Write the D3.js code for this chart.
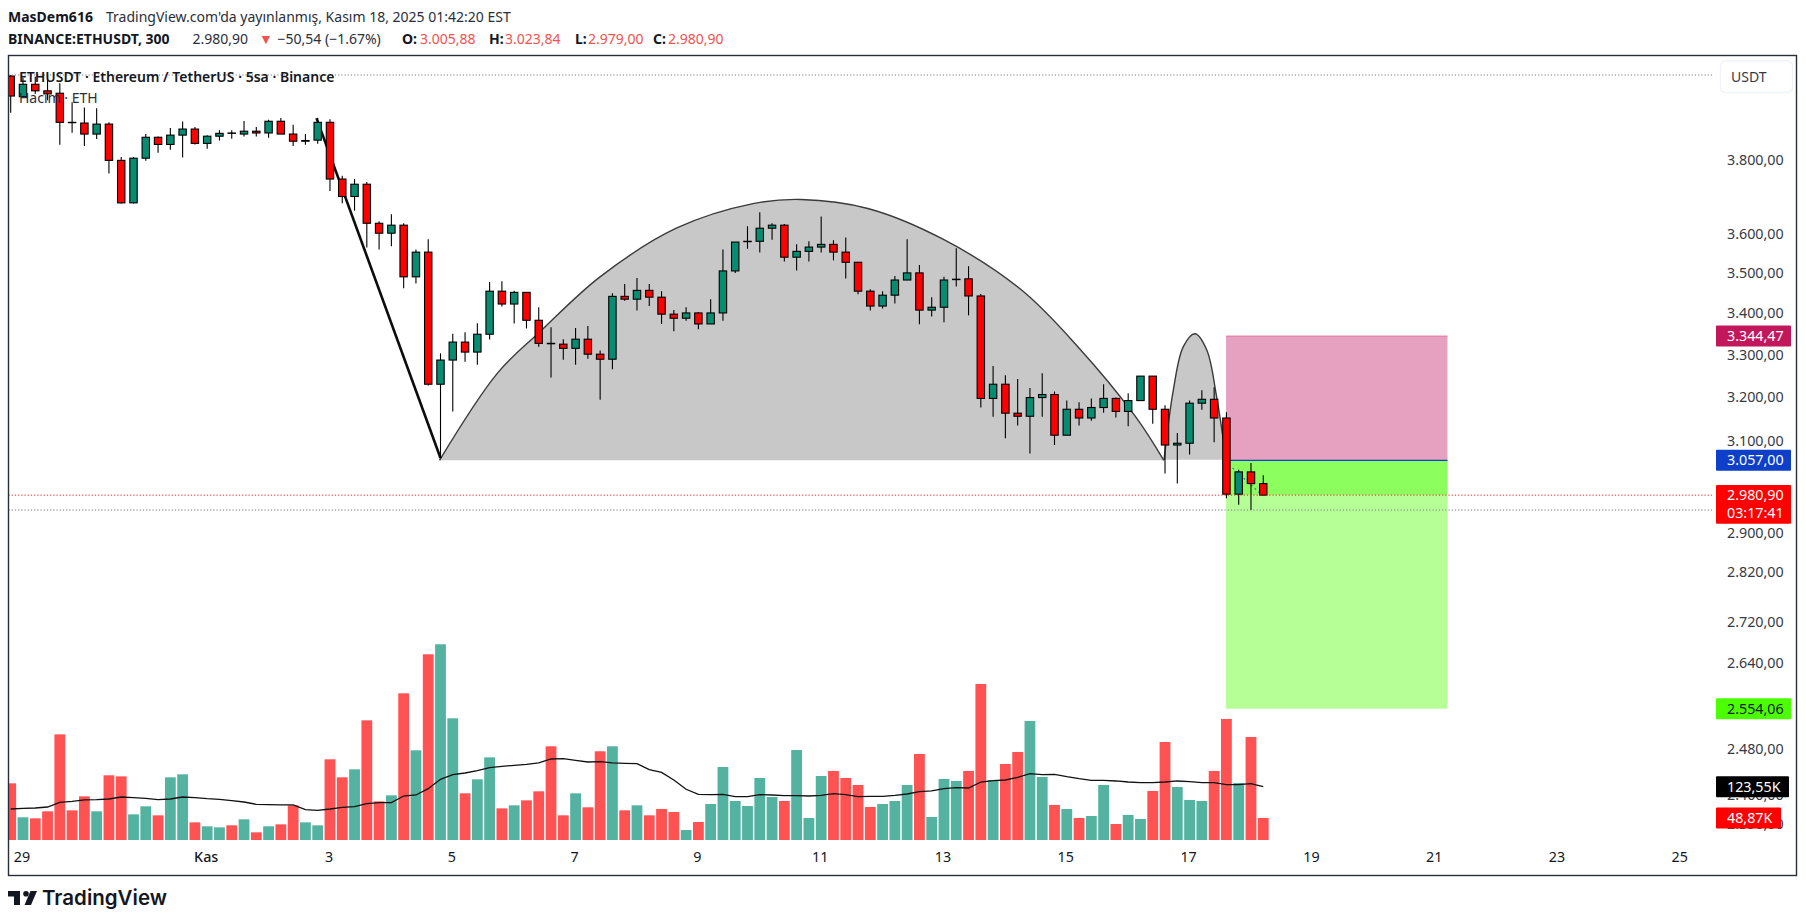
<!DOCTYPE html>
<html><head><meta charset="utf-8">
<style>html,body{margin:0;background:#fff}svg{display:block}text{font-family:"Noto Sans",sans-serif}</style>
<script src="https://cdn.jsdelivr.net/npm/d3@7"></script></head><body>
<svg id="c" width="1806" height="922"></svg>
<script>
const open=[4037,3977,4013,3994,3987,3904,3902,3871,3899,3798,3683,3804,3862,3842,3868,3885,3845,3865,3874,3871,3879,3874,3907,3871,3851,3854,3904,3747,3700,3733,3629,3603,3624,3491,3554,3230,3287,3330,3306,3349,3455,3423,3452,3383,3327,3325,3315,3337,3301,3289,3442,3435,3457,3440,3398,3388,3401,3374,3401,3506,3581,3582,3616,3624,3541,3556,3567,3574,3554,3528,3455,3418,3445,3483,3501,3408,3415,3484,3486,3443,3197,3230,3163,3156,3199,3206,3113,3172,3152,3176,3197,3167,3192,3249,3172,3091,3095,3186,3195,3152,2983,3031.44,3005.88];
const close=[3979,4013,3994,3985,3904,3903,3871,3899,3798,3683,3804,3862,3842,3868,3885,3845,3865,3873,3873,3879,3874,3907,3871,3851,3853,3904,3747,3700,3733,3629,3603,3624,3491,3554,3230,3287,3330,3306,3349,3455,3423,3452,3383,3327,3326,3315,3337,3301,3289,3442,3435,3457,3440,3398,3388,3401,3374,3401,3506,3580,3582,3616,3624,3541,3556,3567,3574,3554,3528,3455,3418,3445,3483,3501,3408,3415,3483,3485,3443,3197,3230,3163,3156,3199,3206,3113,3172,3152,3176,3197,3167,3192,3249,3172,3091,3095,3186,3195,3152,2983,3031.44,3005.88,2980.90];
const high=[4040,4031,4035,4040,4016,3961,3946,3944,3904,3807,3807,3871,3864,3888,3906,3891,3868,3882,3882,3908,3891,3911,3916,3897,3871,3916,3913,3756,3747,3739,3634,3653,3629,3561,3587,3303,3350,3354,3376,3478,3480,3456,3452,3415,3366,3337,3364,3369,3310,3450,3473,3488,3473,3455,3408,3415,3403,3435,3561,3580,3621,3658,3629,3627,3574,3582,3647,3585,3592,3528,3460,3455,3493,3587,3521,3440,3491,3564,3518,3448,3273,3251,3242,3221,3256,3213,3192,3188,3197,3230,3199,3209,3249,3249,3181,3118,3192,3216,3223,3165,3036,3051,3023.84];
const low=[3931,3973,3985,3967,3841,3875,3838,3857,3762,3681,3681,3797,3819,3827,3806,3842,3830,3853,3858,3864,3864,3861,3871,3838,3841,3844,3715,3682,3662,3566,3561,3569,3462,3474,3227,3062,3167,3283,3276,3336,3417,3375,3363,3319,3246,3288,3276,3290,3194,3265,3431,3407,3418,3374,3356,3382,3361,3374,3382,3501,3563,3553,3586,3530,3507,3530,3553,3533,3487,3447,3407,3412,3424,3483,3373,3392,3378,3467,3395,3176,3155,3106,3135,3072,3155,3091,3113,3135,3146,3164,3153,3133,3192,3139,3028,3006,3070,3171,3097,2974,2960,2949,2979];
const volume=[125.9,50.4,48.1,63.7,234.7,65.9,97,63.7,143.7,141.4,57,74.8,54.8,139.2,145.9,39.2,30.4,28.1,32.6,45.9,17,30.4,34.8,77,39.2,32.6,179.2,139.2,157,265.8,85.9,99.2,325.8,199.2,412.5,434.7,270.3,103.7,134.8,183.6,70.3,77,88.1,108.1,208.1,54.8,103.7,72.6,197,208.1,65.9,77,54.8,68.9,62.2,22.2,40,80,162.2,86.6,75.5,137.7,95.5,86.6,199.9,48.9,142.2,153.3,137.7,122.2,73.3,80,86.6,122.2,191,51.1,135.5,131.1,153.3,346.6,133.3,168.8,195.5,264.4,140,77.8,68.9,48.9,53.3,122.2,35.5,55.5,46.7,108.9,217.7,117.7,88.9,86.6,153.3,268.8,126.6,228.8,48.87];
const volumeMA=[68.9,70.3,71.1,73.3,83.7,85.9,88.9,89.6,91.1,95.5,94,92.6,89.6,91.1,95.5,94,91.8,90.3,87.4,84.4,79.2,78.5,77.8,77.8,67.4,65.9,68.9,72.6,74,80.7,82.9,82.9,97.7,100,114,134.8,145.1,148.8,154,160.7,163.7,165.9,168.1,171.1,179.9,180.7,177,173.3,174,171.1,170.3,169.6,156.2,150.3,133.3,112.6,101.4,100.7,101.4,96.3,96.3,100.7,100,98.5,98.5,97.7,99.2,102.9,100.7,96.3,97,97,99.2,102.2,107.4,108.9,114,116.3,115.5,128.8,131.8,133.3,139.2,147.4,145.1,145.9,140.7,136.3,132.6,132.6,131.1,128.8,127.4,127.4,128.8,131.1,129.6,127.4,127.4,122.9,122.9,125.1,118.5];

const priceTicks=[3800,3600,3500,3400,3300,3200,3100,2900,2820,2720,2640,2480,2400,2350];
const dateTickIndex=[1,16,26,36,46,56,66,76,86,96,106,116,126,136];
const dateTickLabels=["29","Kas","3","5","7","9","11","13","15","17","19","21","23","25"];

const bigArcIndex=[34.92,39.64,43.1,47.99,54.2,60.45,64.35,69.8,76,82.27,86.9,91.6,93.9];
const bigArcPrice=[3057,3256,3355,3491,3616,3681,3692,3668,3586,3459,3319,3155,3057];
const smallArcIndex=[93.92,94.68,95.49,96.44,97.4,98.2,98.75,98.97];
const smallArcPrice=[3058,3217,3319,3350,3311,3201,3102,3058];
const legIndex=[24.9,35], legPrice=[3916,3062];
const traceIndex=[99.5,101.9], tracePrice=[3040,2981];

const entry=3057, stopLevel=3344.47, target=2554.06, last=2980.90;
const boxIndex=[98.97,117.0];
const visibleHigh=4040, visibleLow=2949;
const lastVolume=48.87, lastVolMA=118.5;

const X0=8.5,X1=1796.5,Y0=55.5,Y1=875.5,AX=1716;
const svg=d3.select("#c");
const x=d3.scaleLinear().domain([0,136]).range([10.7,10.7+136*12.28]);
const y=d3.scaleLog().domain([entry,target]).range([460.3,708.7]);
const v=d3.scaleLinear().domain([0,450]).range([840,637.4]);
const loc=d3.formatLocale({decimal:",",thousands:".",grouping:[3],currency:["",""]});
const fp=loc.format(",.2f");

const C={red:"#ff0000",teal:"#078c72",vr:"#ff5252",vt:"#53b2a0"};
svg.append("defs").append("clipPath").attr("id","plot").append("rect").attr("x",X0).attr("y",Y0).attr("width",AX-X0).attr("height",Y1-Y0-30);
const g=svg.append("g").attr("clip-path","url(#plot)");

// volume
const idx=d3.range(open.length);
g.append("g").selectAll("rect").data(idx).join("rect")
 .attr("x",i=>x(i)-5.4).attr("width",10.8).attr("y",i=>v(volume[i])).attr("height",i=>v(0)-v(volume[i]))
 .attr("fill",i=>close[i]<open[i]?C.vr:C.vt);
g.append("path").datum(idx).attr("fill","none").attr("stroke","#111").attr("stroke-width",1.3)
 .attr("d",d3.line().x(i=>x(i)).y(i=>v(volumeMA[i])));

// arcs
const arc=d3.line().x(d=>x(d[0])).y(d=>y(d[1])).curve(d3.curveCatmullRom.alpha(.5));
[[bigArcIndex,bigArcPrice],[smallArcIndex,smallArcPrice]].forEach(([a,b])=>{
  const pts=a.map((d,i)=>[d,b[i]]);
  g.append("path").attr("d",arc(pts)+"Z").attr("fill","#c8c8c8");
  g.append("path").attr("d",arc(pts)).attr("fill","none").attr("stroke","#3a3a3a").attr("stroke-width",1.4);
});
// position box
const bx=x(boxIndex[0]),bw=x(boxIndex[1])-bx;
const band=(a,b,f)=>g.append("rect").attr("x",bx).attr("width",bw).attr("y",y(a)).attr("height",y(b)-y(a)).attr("fill",f);
band(stopLevel,entry,"#e5a1bf");band(entry,last,"#8cff5f");band(last,target,"#b6ff97");
g.append("line").attr("x1",bx).attr("x2",bx+bw).attr("y1",y(stopLevel)).attr("y2",y(stopLevel)).attr("stroke","#e0709c").attr("stroke-width",1);
g.append("line").attr("x1",bx).attr("x2",bx+bw).attr("y1",y(entry)).attr("y2",y(entry)).attr("stroke","#0d47c8").attr("stroke-width",1.2);
// bold leg
g.append("path").attr("d",d3.line().x((d,i)=>x(legIndex[i])).y((d,i)=>y(legPrice[i]))(legIndex)).attr("stroke","#0c0c0c").attr("stroke-width",2.6).attr("fill","none");
g.append("path").attr("d",d3.line().x((d,i)=>x(traceIndex[i])).y((d,i)=>y(tracePrice[i]))(traceIndex)).attr("stroke","#3e74c7").attr("stroke-width",1.2).attr("stroke-dasharray","2 3").attr("fill","none");

// candles
const cg=g.append("g").selectAll("g").data(idx).join("g");
cg.append("line").attr("x1",i=>x(i)).attr("x2",i=>x(i)).attr("y1",i=>y(high[i])).attr("y2",i=>y(low[i])).attr("stroke","#000").attr("stroke-width",1.1);
cg.append("rect").attr("x",i=>x(i)-3.7).attr("width",7.4)
 .attr("y",i=>y(Math.max(open[i],close[i])))
 .attr("height",i=>Math.abs(y(open[i])-y(close[i])))
 .attr("fill",i=>close[i]<open[i]?C.red:C.teal).attr("stroke","#000").attr("stroke-width",1.1);

// dotted levels
const dot=(p,col)=>svg.append("line").attr("x1",X0).attr("x2",AX-2).attr("y1",y(p)).attr("y2",y(p)).attr("stroke",col).attr("stroke-width",1).attr("stroke-dasharray","1.2 2");
dot(visibleHigh,"#787b86");dot(visibleLow,"#787b86");dot(last,"#e0201f");

// frame
svg.append("rect").attr("x",X0).attr("y",Y0).attr("width",X1-X0).attr("height",Y1-Y0).attr("fill","none").attr("stroke","#2a2e39").attr("stroke-width",1.4);

// axes
const ya=svg.append("g").attr("transform",`translate(1727,0)`).call(d3.axisRight(y).tickValues(priceTicks).tickSize(0).tickPadding(0).tickFormat(fp));
ya.select(".domain").remove();
ya.selectAll("text").attr("font-size",14.3).attr("fill","#363a45").style("font-family",'"Noto Sans",sans-serif');
const xa=svg.append("g").attr("transform",`translate(-1.5,${Y1-26})`).call(d3.axisBottom(x).tickValues(dateTickIndex).tickSize(0).tickPadding(0).tickFormat((d,i)=>dateTickLabels[i]));
xa.select(".domain").remove();
xa.selectAll("text").attr("font-size",14.3).attr("fill","#131722").style("font-family",'"Noto Sans",sans-serif').attr("dy",".85em").attr("y",0);
xa.selectAll("text").filter((d,i)=>i==1).attr("font-weight",500);

// labels
function label(cy,h,w,fill,lines,tc){
  svg.append("rect").attr("x",AX).attr("y",cy-h/2).attr("width",w).attr("height",h).attr("fill",fill).attr("rx",1);
  lines.forEach((t,i)=>svg.append("text").attr("x",1727).attr("y",cy-(lines.length-1)*9+i*18).attr("dy",".36em").attr("font-size",14.3).attr("fill",tc).text(t));
}
label(y(stopLevel),21,75,"#c2185b",[fp(stopLevel)],"#fff");
label(y(entry),21,75,"#0d3fc8",[fp(entry)],"#fff");
label(y(last)+9.2,38.6,75,"#ff0000",[fp(last),"03:17:41"],"#fff");
label(y(target),21,75,"#4bff00",[fp(target)],"#131722");
label(v(lastVolMA),21,73,"#000",["123,55K"],"#fff");
label(v(lastVolume),21,65,"#ff0000",["48,87K"],"#fff");

// USDT button
svg.append("rect").attr("x",1720.5).attr("y",61).attr("width",72).attr("height",31.5).attr("rx",5).attr("fill","#fff").attr("stroke","#f0f3fa").attr("stroke-width",1.4);
svg.append("text").attr("x",1731).attr("y",76.7).attr("dy",".36em").attr("font-size",14).attr("fill","#363a45").text("USDT");

// legends
const tx=(s,xp,yc,o={})=>svg.append("text").attr("x",xp).attr("y",yc).attr("dy",".36em").attr("font-size",o.s||14).attr("font-weight",o.w||400).attr("fill",o.c||"#131722").text(s);
tx("ETHUSDT · Ethereum / TetherUS · 5sa · Binance",19,77,{w:600,s:14});
tx("Hacim · ETH",19,98,{c:"#2a2e39",s:14});

// header
tx("MasDem616",8,17,{w:700});
tx("TradingView.com'da yayınlanmış, Kasım 18, 2025 01:42:20 EST",106,17,{c:"#2a2e39"});
tx("BINANCE:ETHUSDT, 300",8,39,{w:700});
tx("2.980,90",192.5,39,{c:"#2a2e39"});
tx("▼",259,39,{c:"#ef5350",s:14});
tx("−50,54 (−1.67%)",277.5,39,{c:"#2a2e39"});
const red="#ef5350";
tx("O:",402,39,{w:700});tx("3.005,88",420,39,{c:red});
tx("H:",489,39,{w:700});tx("3.023,84",505,39,{c:red});
tx("L:",575,39,{w:700});tx("2.979,00",588,39,{c:red});
tx("C:",653,39,{w:700});tx("2.980,90",668,39,{c:red});

// logo
const logo=svg.append("g").attr("fill","#131722");
logo.append("path").attr("d","M8 891H20V905H14V896.5H8Z");
logo.append("circle").attr("cx",26).attr("cy",893.7).attr("r",2.8);
logo.append("path").attr("d","M30.5 891H37L31 905H24.5Z");
svg.append("text").attr("x",42).attr("y",898).attr("dy",".36em").attr("font-size",20.5).attr("font-weight",600).attr("fill","#131722").style("font-family","Inter").text("TradingView");
</script></body></html>
